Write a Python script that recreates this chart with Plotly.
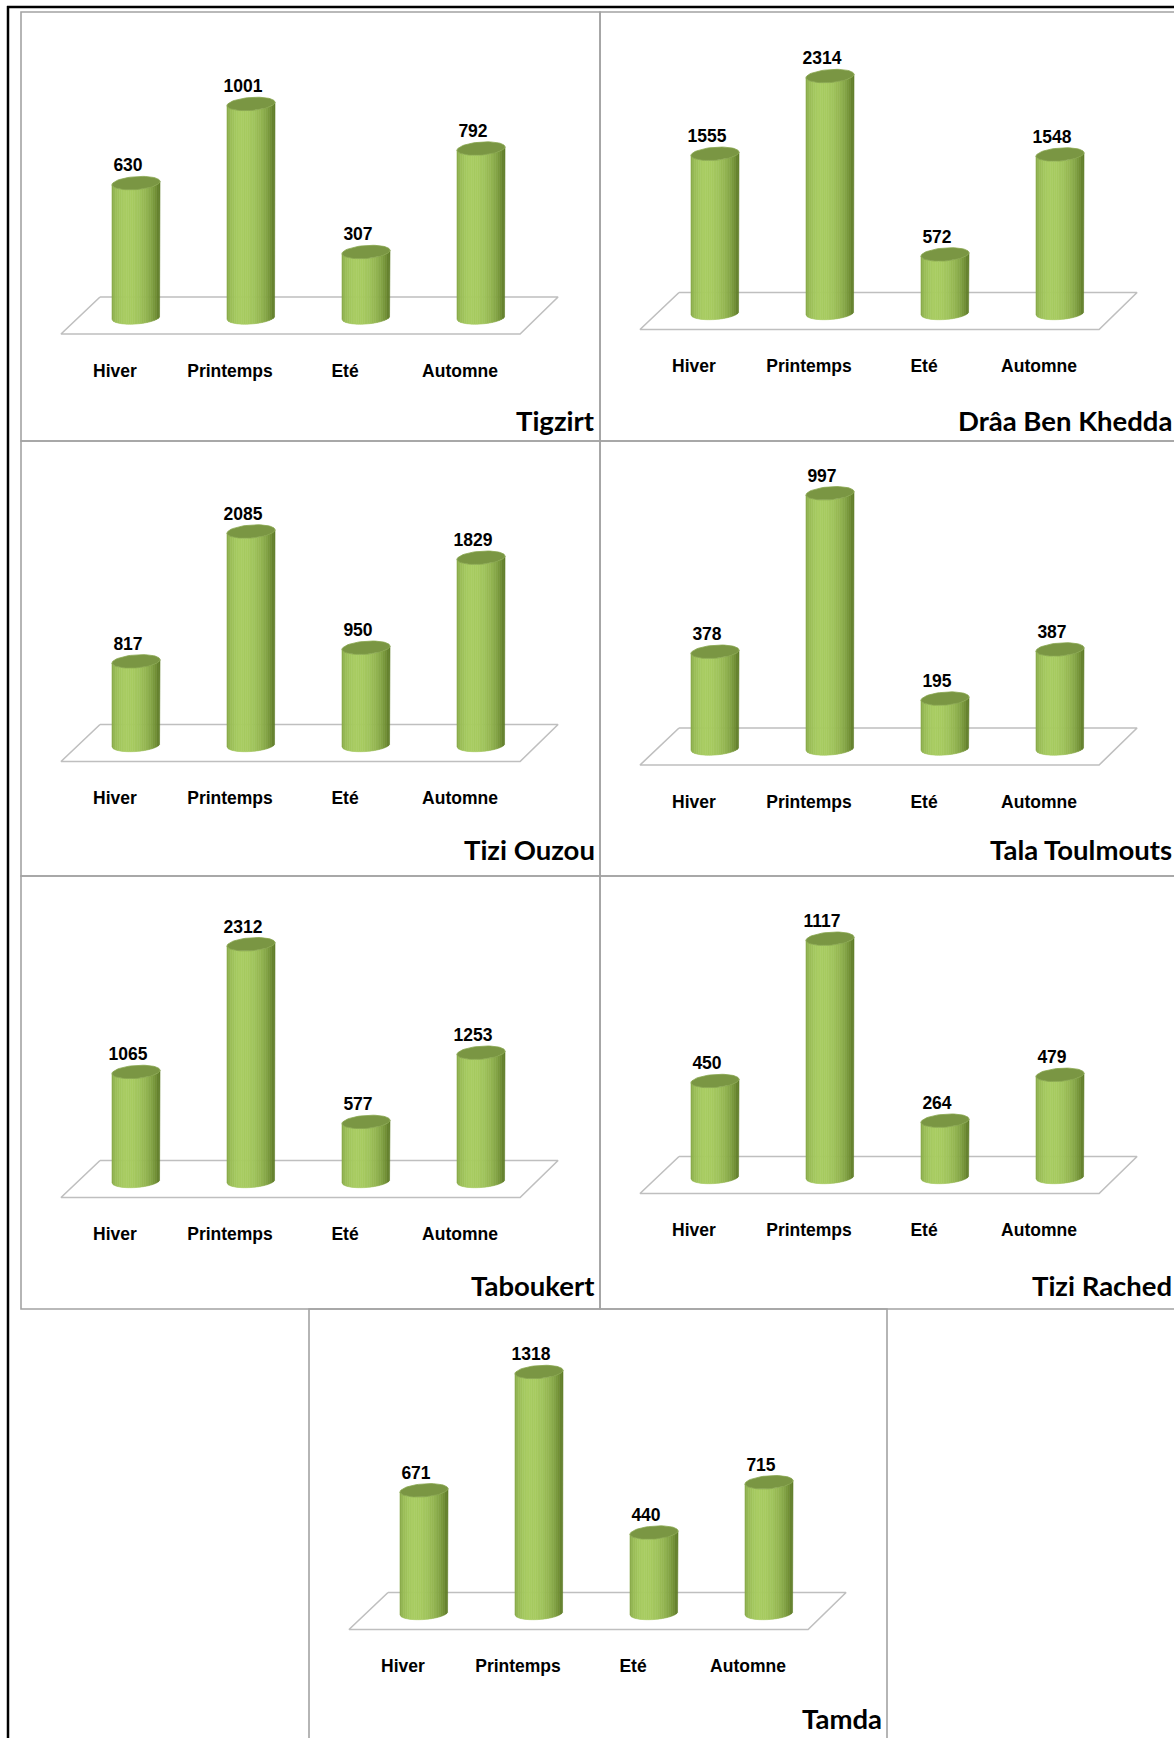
import numpy as np
import plotly.graph_objects as go

# ---- data -------------------------------------------------------------
seasons = ["Hiver", "Printemps", "Eté", "Automne"]
stations = ["Tigzirt", "Drâa Ben Khedda", "Tizi Ouzou", "Tala Toulmouts",
            "Taboukert", "Tizi Rached", "Tamda"]

tigzirt = [630, 1001, 307, 792]
draa_ben_khedda = [1555, 2314, 572, 1548]
tizi_ouzou = [817, 2085, 950, 1829]
tala_toulmouts = [378, 997, 195, 387]
taboukert = [1065, 2312, 577, 1253]
tizi_rached = [450, 1117, 264, 479]
tamda = [671, 1318, 440, 715]

# value-axis maximum of each small chart
axis_max = [1200, 2500, 2500, 1000, 2500, 1200, 1400]

series = [tigzirt, draa_ben_khedda, tizi_ouzou, tala_toulmouts,
          taboukert, tizi_rached, tamda]

# ---- page geometry (pixels) ---------------------------------------------
FIG_W, FIG_H = 1174, 1738
boxes = [  # left, top, right, bottom of each framed panel
    (21, 12, 600, 441), (600, 12, 1177, 441),
    (21, 441, 600, 876), (600, 441, 1177, 876),
    (21, 876, 600, 1309), (600, 876, 1177, 1309),
    (309, 1309, 887, 1745),
]
base_rel = [305.5, 301, 304, 307.5, 305, 301, 304]  # zero level below panel top
PLOT_H = 256        # pixel height of the value axis
STEP = 115          # pixel spacing of categories
X0 = 115            # first category offset from panel left
RAD_X, RAD_Y = 24, 6.5
SHEAR = 0.07
N_STRIPS = 26

DARK = np.array([88, 116, 34])
LIGHT = np.array([168, 204, 98])
CAP = "#7a9643"
FONT_LBL = "Liberation Sans"
FONT_TTL = "Lato"


def strip_color(t):
    theta = np.arcsin(2 * t - 1)
    inten = max(0.0, np.cos(theta + 0.35))
    c = DARK + (LIGHT - DARK) * (0.1 + 0.9 * inten)
    return "rgb(%d,%d,%d)" % tuple(int(round(v)) for v in c)


fig = go.Figure()
layout_axes = {}

for p, vals in enumerate(series):
    left, top, right, bottom = boxes[p]
    amax = axis_max[p]
    sx = 1.0 / STEP
    sy = amax / PLOT_H
    base_abs = top + base_rel[p]

    # axis domains/ranges mapping data onto the panel's pixels
    dl, dr = max(left, 0), min(right, FIG_W)
    dt, db = max(top, 0), min(bottom, FIG_H)
    xr = [(dl - left - X0) * sx, (dr - left - X0) * sx]
    yr = [(base_abs - db) * sy, (base_abs - dt) * sy]
    n = p + 1
    xa, ya = ("x%d" % n, "y%d" % n)
    layout_axes["xaxis%d" % n] = dict(domain=[dl / FIG_W, dr / FIG_W], range=xr,
                                      anchor=ya, visible=False, fixedrange=True)
    layout_axes["yaxis%d" % n] = dict(domain=[1 - db / FIG_H, 1 - dt / FIG_H], range=yr,
                                      anchor=xa, visible=False, fixedrange=True)

    # floor of the 3-D plot
    fx = [-0.313, 3.67, 3.34, -0.652, -0.313]
    fy = [20.5 * sy, 20.5 * sy, -16.5 * sy, -16.5 * sy, 20.5 * sy]
    fig.add_trace(go.Scatter(x=fx, y=fy, mode="lines", fill="toself",
                             fillcolor="white",
                             line=dict(color="#bfbfbf", width=1.6),
                             hoverinfo="skip", xaxis=xa, yaxis=ya))

    # cylinder bodies, shaded with narrow vertical strips
    for j in range(N_STRIPS):
        u = np.linspace(-1 + 2 * j / N_STRIPS, -1 + 2 * (j + 1) / N_STRIPS, 5)
        arc = RAD_Y * np.sqrt(np.clip(1 - u ** 2, 0, 1))
        sh = SHEAR * RAD_X * u
        xs, ys = [], []
        for i, v in enumerate(vals):
            px = i + RAD_X * u * sx
            top_y = v + (-arc + sh) * sy
            bot_y = (-arc + sh) * sy
            xs += list(px) + list(px[::-1]) + [px[0], None]
            ys += list(top_y) + list(bot_y[::-1]) + [top_y[0], None]
        col = strip_color((j + 0.5) / N_STRIPS)
        fig.add_trace(go.Scatter(x=xs, y=ys, mode="lines", fill="toself",
                                 fillcolor=col, line=dict(color=col, width=0.6),
                                 hoverinfo="skip", xaxis=xa, yaxis=ya))

    # top caps
    t = np.linspace(0, 2 * np.pi, 60)
    xs, ys = [], []
    for i, v in enumerate(vals):
        ex = RAD_X * np.cos(t)
        ey = RAD_Y * np.sin(t) + SHEAR * ex
        xs += list(i + ex * sx) + [None]
        ys += list(v + ey * sy) + [None]
    fig.add_trace(go.Scatter(x=xs, y=ys, mode="lines", fill="toself",
                             fillcolor=CAP, line=dict(color="#88a64e", width=0.8),
                             hoverinfo="skip", xaxis=xa, yaxis=ya))

    # value labels
    fig.add_trace(go.Scatter(
        x=[i - 8 * sx for i in range(len(vals))],
        y=[v + 16 * sy for v in vals],
        text=[str(v) for v in vals], mode="text", textposition="middle center",
        textfont=dict(family=FONT_LBL, size=17.5, color="black", weight="bold"),
        hoverinfo="skip", cliponaxis=False, xaxis=xa, yaxis=ya))

    # season labels
    fig.add_trace(go.Scatter(
        x=[i - 21 * sx for i in range(len(seasons))],
        y=[-55 * sy] * len(seasons),
        text=seasons, mode="text", textposition="middle center",
        textfont=dict(family=FONT_LBL, size=17.5, color="black", weight="bold"),
        hoverinfo="skip", cliponaxis=False, xaxis=xa, yaxis=ya))

# panel titles
annotations = []
for p, name in enumerate(stations):
    left, top, right, bottom = boxes[p]
    annotations.append(dict(
        text="<b>%s</b>" % name, xref="paper", yref="paper",
        x=(right - 3) / FIG_W, y=1 - (top + 409) / FIG_H,
        xanchor="right", yanchor="middle", showarrow=False,
        font=dict(family=FONT_TTL, size=27.5, color="black")))

# panel frames and outer border
shapes = []
for (left, top, right, bottom) in boxes:
    shapes.append(dict(type="rect", xref="paper", yref="paper",
                       x0=left / FIG_W, x1=right / FIG_W,
                       y0=1 - bottom / FIG_H, y1=1 - top / FIG_H,
                       line=dict(color="#a3a3a3", width=1.6), layer="below"))
shapes.append(dict(type="line", xref="paper", yref="paper",
                   x0=8 / FIG_W, x1=8 / FIG_W, y0=0, y1=1 - 6 / FIG_H,
                   line=dict(color="black", width=2.5)))
shapes.append(dict(type="line", xref="paper", yref="paper",
                   x0=7 / FIG_W, x1=1, y0=1 - 7 / FIG_H, y1=1 - 7 / FIG_H,
                   line=dict(color="black", width=2.5)))

fig.update_layout(
    width=FIG_W, height=FIG_H,
    margin=dict(l=0, r=0, t=0, b=0),
    paper_bgcolor="white", plot_bgcolor="rgba(0,0,0,0)",
    showlegend=False, annotations=annotations, shapes=shapes,
    **layout_axes)

fig.write_html("out.html")
